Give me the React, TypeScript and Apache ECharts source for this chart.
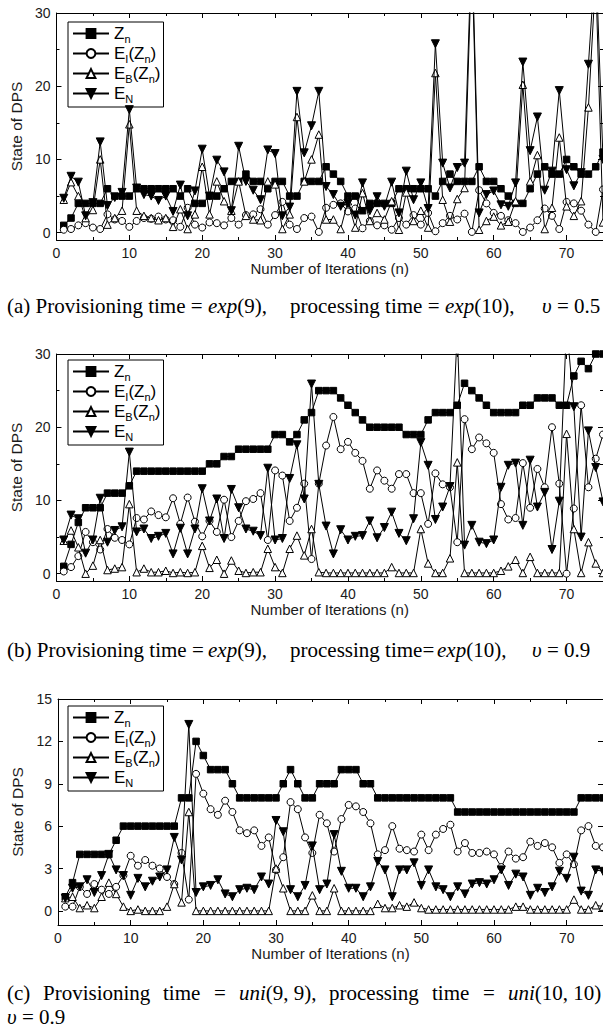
import React, { useEffect, useRef } from 'react';
import * as echarts from 'echarts';

// ---------- data ----------
const iterations = Array.from({ length: 75 }, (_, i) => i + 1);
const seriesNames = ['Zn', 'EI(Zn)', 'EB(Zn)', 'EN'];
const xMajorTicks = [0, 10, 20, 30, 40, 50, 60, 70];
const xMinorTicks = [5, 15, 25, 35, 45, 55, 65];
const yTicksAB = [0, 10, 20, 30];
const yMinorAB = [5, 15, 25];
const yTicksC = [0, 3, 6, 9, 12, 15];

// panel (a)
const znA = [1, 2, 4, 4, 4, 4, 6, 5, 5, 5, 6, 6, 6, 6, 6, 6, 5, 6, 4, 4, 5, 5, 6, 7, 7, 8, 7, 7, 6, 7, 7, 5, 5, 7, 7, 7, 9, 8, 7, 5, 5, 3, 4, 4, 4, 4, 6, 6, 6, 6, 6, 5, 7, 8, 7, 7, 7, 9, 7, 7, 6, 5, 4, 4, 6, 8, 9, 8, 8, 10, 9, 8, 8, 9, 11];
const eiA = [0.4, 0.5, 1, 1.3, 0.7, 0.5, 2.5, 1.8, 1.6, 0.8, 1.6, 2, 1.9, 2.2, 1.8, 1.7, 0.8, 3.4, 1.1, 0.7, 1.4, 1.3, 1, 2, 1.1, 2.4, 2.5, 3.2, 1.1, 2.4, 4.2, 1.1, 0.5, 2, 2.2, 0.1, 3.4, 3.8, 4, 2.9, 3.3, 0.6, 1.6, 1, 1, 0.4, 2, 1.1, 2.4, 1.1, 2.7, 0.2, 1.3, 2.3, 1.8, 2.6, 0.1, 5.8, 4, 2.7, 2.3, 1.7, 1.3, 0.1, 0.7, 1.7, 3.3, 2.3, 0.5, 4.2, 4, 3, 1.1, 0.1, 5.9];
const ebA = [4.5, 6.9, 5, 2, 3.1, 10, 1.1, 2, 3, 14.8, 3, 2.3, 2, 1.7, 2, 0.8, 3.2, 0.5, 2.5, 9, 2.5, 7, 4.3, 3, 7, 2.3, 1.8, 1.7, 7, 6.6, 0.5, 2.5, 15.8, 7, 10, 13.4, 1.8, 1.8, 0.5, 4.3, 0.7, 5.4, 1.6, 2.7, 1.8, 4.3, 0.4, 5.5, 1.6, 3, 0.7, 21.8, 4.5, 1.5, 4.6, 6.1, 38, 0.4, 1.6, 2.2, 1, 1.5, 4.3, 20.2, 7, 10.6, 0.5, 3.4, 13, 3.6, 2.3, 4.3, 17.1, 35, 1.4];
const enA = [4.7, 7.7, 6.9, 2.3, 4.1, 12.4, 3.7, 4.8, 5.5, 16.8, 6.1, 5.2, 5, 4.4, 5, 2.9, 6.5, 2.3, 5.7, 11.4, 5, 9.9, 8.3, 3, 11.8, 7, 5.8, 4.5, 11.3, 10.8, 2.3, 3.5, 19.3, 10.9, 14.6, 19.3, 6.3, 5.2, 3.6, 4, 2.4, 6.8, 3, 4.9, 3.6, 6.9, 2.7, 8.4, 4.5, 6.8, 3.3, 25.8, 9.5, 6.1, 8.9, 9.5, 40, 2.7, 5.2, 5.7, 3.8, 3.6, 6.8, 23.3, 11.2, 15.8, 5.8, 8.4, 19.4, 8.6, 6.4, 8.2, 23, 38, 10];

// panel (b)
const znB = [1, 4, 7, 9, 9, 9, 11, 11, 11, 12, 14, 14, 14, 14, 14, 14, 14, 14, 14, 14, 15, 15, 16, 16, 17, 17, 17, 17, 17, 19, 19, 18, 19, 21, 22, 25, 25, 25, 24, 23, 22, 21, 20, 20, 20, 20, 20, 19, 19, 19, 21, 22, 22, 22, 23, 26, 25, 24, 23, 22, 22, 22, 22, 23, 23, 24, 24, 24, 23, 23, 27, 29, 28, 30, 30];
const eiB = [0.3, 0.9, 2.4, 5.7, 4.3, 3.3, 6.1, 4.9, 4.6, 4, 7.6, 7.4, 8.5, 8, 7.7, 10.3, 6.8, 10.4, 7.1, 5.1, 7.2, 5.7, 10.1, 5, 7.2, 9.9, 10.2, 11, 4.6, 14.1, 13.4, 7.2, 9, 12.3, 2, 12.3, 17.5, 21.4, 17, 18, 16.5, 15.4, 11.6, 14.1, 12.7, 11.6, 13.6, 13.6, 11, 11, 6.8, 13.7, 12.2, 11.8, 4.3, 21.1, 17, 18.6, 17.8, 16.5, 9.5, 7.4, 7.6, 15.1, 9, 14.3, 11.8, 20, 12.3, 0, 8.9, 23, 11.8, 15.7, 19];
const ebB = [4.5, 5.9, 3.6, 0, 1.1, 4.6, 0.5, 0.7, 0.9, 9.5, 0.2, 0.7, 0.2, 0.2, 0.4, 0.1, 0.2, 0.1, 0.2, 3.8, 0.8, 1.9, 0, 1.8, 0.4, 0.1, 0.2, 0.2, 3.4, 0.9, 0.1, 3.4, 5.2, 2.5, 6.1, 0.2, 0.1, 0.1, 0.1, 0.1, 0.1, 0.1, 0.1, 0.1, 0.1, 0.9, 0.1, 0.1, 0.1, 6.1, 1.4, 0.1, 0.1, 2.1, 15.2, 0.1, 0.1, 0.1, 0.1, 0.1, 0.4, 1, 1.9, 0.1, 2.3, 0.1, 0.1, 0.1, 0.1, 19.1, 6.1, 0.1, 4.3, 1.4, 0.1];
const enB = [4.6, 8, 7.5, 2.8, 4.6, 10.3, 4.3, 5.9, 6.4, 16.6, 5.7, 6.1, 4.8, 5.1, 5.5, 2.7, 6.2, 2.7, 6.1, 11.6, 7.2, 10.2, 4.8, 11.5, 9, 6.1, 5.8, 5.2, 14.4, 4.6, 4.8, 13, 17.6, 10.2, 25.9, 12.2, 6.5, 2.7, 6, 4.6, 5.1, 5.2, 7.2, 4.9, 6.3, 8.4, 5.5, 4.5, 7.5, 17.9, 14.8, 7.4, 9.1, 11.9, 33, 3.9, 6.6, 4.3, 4.1, 4.6, 11.8, 14.8, 15.1, 6.6, 15.5, 9.1, 11.1, 3.3, 9.9, 34, 22.8, 5, 19.5, 14.5, 9.8];

// panel (c)
const znC = [1, 2, 4, 4, 4, 4, 4, 5, 6, 6, 6, 6, 6, 6, 6, 6, 8, 8, 12, 11, 10, 10, 10, 9, 8, 8, 8, 8, 8, 8, 9, 10, 9, 8, 8, 9, 9, 9, 10, 10, 10, 9, 9, 8, 8, 8, 8, 8, 8, 8, 8, 8, 8, 8, 7, 7, 7, 7, 7, 7, 7, 7, 7, 7, 7, 7, 7, 7, 7, 7, 7, 8, 8, 8, 8];
const eiC = [0.3, 0.3, 1.7, 1.2, 1.9, 1.5, 1.2, 1.7, 2.5, 3.9, 3.2, 3.6, 3.2, 3, 2.4, 1.9, 4.1, 0.8, 9.7, 8.3, 7.2, 6.8, 7.8, 7, 5.7, 5.5, 5.7, 4.6, 5.2, 2.9, 3.8, 7.7, 7.2, 5.2, 4.1, 6.8, 6.2, 4.2, 6.5, 7.5, 7.4, 7, 6.2, 4, 4.3, 6, 4.4, 4.3, 4.2, 5.4, 4.3, 5.4, 5.8, 6.1, 4.2, 4.8, 4.1, 4.1, 4.2, 4, 3.1, 4.2, 3.7, 3.8, 4.9, 4.6, 4.8, 4.5, 3.4, 4, 3.3, 5.7, 6, 4.6, 4.5];
const ebC = [0.9, 1, 0.2, 0.4, 0.2, 1, 2, 1.2, 0.3, 0, 0.1, 0, 0, 0, 0.3, 1.9, 0.6, 7, 0, 0, 0, 0, 0, 0, 0, 0, 0, 0, 0, 3, 1.6, 0, 0, 0, 1.1, 0, 0, 1.6, 0, 0, 0, 0, 0, 0.5, 0.2, 0.2, 0.4, 0.3, 0.6, 0.2, 0.1, 0.1, 0.1, 0.1, 0.1, 0.1, 0.1, 0.1, 0.1, 0.1, 0.1, 0.1, 0.3, 0.3, 0.1, 0.1, 0.1, 0.1, 0.1, 0.1, 0.8, 0.1, 0.1, 0.4, 0.3];
const enC = [0.9, 1.6, 1.7, 2.2, 1.3, 2.5, 4, 2.9, 2.5, 1.1, 2.3, 1.7, 2.1, 2.4, 2.9, 5.2, 3.6, 13.2, 1.3, 1.7, 1.8, 2.2, 1.2, 1, 1.5, 1.6, 1.5, 2.4, 1.9, 6.4, 5.6, 1.5, 1, 1.8, 4.6, 1.5, 1.9, 5.4, 2.8, 1.6, 1.6, 1, 1.7, 3.5, 2.9, 1, 2.9, 2.9, 3.4, 1.8, 2.9, 1.7, 1.5, 1, 1.7, 1.2, 1.9, 2, 1.9, 2.2, 2.9, 1.8, 2.6, 2.4, 1.1, 1.6, 1.3, 1.7, 2.8, 2.3, 3.8, 1.4, 1.1, 2.9, 2.8];

// ---------- styles ----------
const SANS = '"Liberation Sans", Arial, Helvetica, sans-serif';
const SERIF = '"Liberation Serif", "Times New Roman", Times, serif';
const INK = '#000';
const TXT = '#1a1a1a';

const markerStyles = [
  { symbol: 'rect', size: 6.5, rotate: 0, fill: '#000' },
  { symbol: 'circle', size: 7, rotate: 0, fill: '#fff' },
  { symbol: 'triangle', size: 7.5, rotate: 0, fill: '#fff' },
  { symbol: 'triangle', size: 8, rotate: 180, fill: '#000' },
];

const legendLabels: Record<string, string> = {
  'Zn': '{b|Z}{s|n}',
  'EI(Zn)': '{b|E}{s|I}{b|(Z}{s|n}{b|)}',
  'EB(Zn)': '{b|E}{s|B}{b|(Z}{s|n}{b|)}',
  'EN': '{b|E}{s|N}',
};

const panels = [
  { grid: { left: 54, top: 13, width: 550, height: 227 }, yMax: 30, yTicks: yTicksAB, yMinor: yMinorAB, legend: { left: 68, top: 22 }, data: [znA, eiA, ebA, enA] },
  { grid: { left: 54, top: 354, width: 550, height: 227 }, yMax: 30, yTicks: yTicksAB, yMinor: yMinorAB, legend: { left: 68, top: 360 }, data: [znB, eiB, ebB, enB] },
  { grid: { left: 58, top: 699, width: 546, height: 226 }, yMax: 15, yTicks: yTicksC, yMinor: [] as number[], legend: { left: 68, top: 706 }, data: [znC, eiC, ebC, enC] },
];

function buildOption() {
  const xAxis: any[] = [];
  const yAxis: any[] = [];
  const series: any[] = [];
  const legend: any[] = [];
  const lineStyle = { color: INK, width: 1 };

  panels.forEach((p, gi) => {
    const xBase = { type: 'value', gridIndex: gi, min: 0, max: 75, splitLine: { show: false } };
    const yBase = { type: 'value', gridIndex: gi, min: -1, max: p.yMax, splitLine: { show: false } };
    const mainX = xAxis.length;
    xAxis.push({
      ...xBase, position: 'bottom',
      axisLine: { show: true, onZero: false, lineStyle },
      axisTick: { show: true, inside: true, length: 5, customValues: xMajorTicks, lineStyle },
      axisLabel: { show: true, customValues: xMajorTicks, margin: 6, fontSize: 14, fontFamily: SANS, color: TXT },
      name: 'Number of Iterations (n)', nameLocation: 'middle', nameGap: 21,
      nameTextStyle: { fontSize: 15, fontFamily: SANS, color: TXT },
    });
    xAxis.push({
      ...xBase, position: 'bottom',
      axisLine: { show: false, onZero: false },
      axisTick: { show: true, inside: true, length: 3, customValues: xMinorTicks, lineStyle },
      axisLabel: { show: false },
    });
    xAxis.push({
      ...xBase, position: 'top',
      axisLine: { show: true, onZero: false, lineStyle },
      axisTick: { show: true, inside: true, length: 5, customValues: xMajorTicks, lineStyle },
      axisLabel: { show: false },
    });
    xAxis.push({
      ...xBase, position: 'top',
      axisLine: { show: false, onZero: false },
      axisTick: { show: true, inside: true, length: 3, customValues: xMinorTicks, lineStyle },
      axisLabel: { show: false },
    });

    const mainY = yAxis.length;
    yAxis.push({
      ...yBase, position: 'left',
      axisLine: { show: true, onZero: false, lineStyle },
      axisTick: { show: true, inside: true, length: 5, customValues: p.yTicks, lineStyle },
      axisLabel: { show: true, customValues: p.yTicks, margin: 6, fontSize: 14, fontFamily: SANS, color: TXT },
      name: 'State of DPS', nameLocation: 'middle', nameGap: 30,
      nameTextStyle: { fontSize: 15.5, fontFamily: SANS, color: TXT },
    });
    yAxis.push({
      ...yBase, position: 'right',
      axisLine: { show: true, onZero: false, lineStyle },
      axisTick: { show: true, inside: true, length: 5, customValues: p.yTicks, lineStyle },
      axisLabel: { show: false },
    });
    if (p.yMinor.length) {
      yAxis.push({
        ...yBase, position: 'left',
        axisLine: { show: false, onZero: false },
        axisTick: { show: true, inside: true, length: 3, customValues: p.yMinor, lineStyle },
        axisLabel: { show: false },
      });
      yAxis.push({
        ...yBase, position: 'right',
        axisLine: { show: false, onZero: false },
        axisTick: { show: true, inside: true, length: 3, customValues: p.yMinor, lineStyle },
        axisLabel: { show: false },
      });
    }

    p.data.forEach((vals, si) => {
      const m = markerStyles[si];
      series.push({
        type: 'line',
        name: seriesNames[si],
        xAxisIndex: mainX,
        yAxisIndex: mainY,
        data: iterations.map((x, i) => [x, vals[i]]),
        symbol: m.symbol,
        symbolSize: m.size,
        symbolRotate: m.rotate,
        showAllSymbol: true,
        clip: true,
        itemStyle: { color: m.fill, borderColor: INK, borderWidth: 1 },
        lineStyle: { color: INK, width: 1 },
        emphasis: { disabled: true },
        z: 2 + si,
      });
    });

    legend.push({
      left: p.legend.left,
      top: p.legend.top,
      orient: 'vertical',
      itemWidth: 36,
      itemHeight: 11,
      itemGap: 1,
      padding: [3, 3, 3, 4],
      borderColor: INK,
      borderWidth: 1,
      selectedMode: false,
      data: seriesNames,
      formatter: (n: string) => legendLabels[n],
      textStyle: {
        color: INK,
        fontFamily: SANS,
        fontSize: 17,
        rich: {
          b: { fontSize: 17, lineHeight: 21, fontFamily: SANS, color: INK },
          s: { fontSize: 11, lineHeight: 9, verticalAlign: 'bottom', fontFamily: SANS, color: INK },
        },
      },
    });
  });

  const capText = (x: number, y: number, text: string) => ({
    type: 'text',
    x,
    y,
    silent: true,
    style: {
      text,
      fill: INK,
      fontSize: 21,
      fontFamily: SERIF,
      verticalAlign: 'middle',
      align: 'left',
      rich: {
        i: { fontStyle: 'italic', fontSize: 21, fontFamily: SERIF, fill: INK },
      },
    },
  });

  const graphic = [
    capText(7, 306, '(a) Provisioning time ='),
    capText(208, 306, '{i|exp}(9),'),
    capText(290, 306, 'processing time ='),
    capText(445, 306, '{i|exp}(10),'),
    capText(542, 306, '{i|υ} = 0.5'),

    capText(7, 650, '(b) Provisioning time ='),
    capText(208, 650, '{i|exp}(9),'),
    capText(290, 650, 'processing time='),
    capText(437, 650, '{i|exp}(10),'),
    capText(532, 650, '{i|υ} = 0.9'),

    capText(7, 993, '(c)'),
    capText(43, 993, 'Provisioning'),
    capText(163, 993, 'time'),
    capText(214, 993, '='),
    capText(239, 993, '{i|uni}(9, 9),'),
    capText(329, 993, 'processing'),
    capText(432, 993, 'time'),
    capText(483, 993, '='),
    capText(508, 993, '{i|uni}(10, 10)'),
    capText(7, 1017, '{i|υ} = 0.9'),
  ];

  return {
    animation: false,
    backgroundColor: '#fff',
    grid: panels.map((p) => ({ ...p.grid, containLabel: false })),
    xAxis,
    yAxis,
    series,
    legend,
    graphic,
  };
}

export default function App() {
  const ref = useRef<HTMLDivElement>(null);
  useEffect(() => {
    if (!ref.current) return;
    const chart = echarts.init(ref.current, undefined, { renderer: 'svg' });
    chart.setOption(buildOption() as any);
    return () => chart.dispose();
  }, []);
  return (
    <div
      ref={ref}
      style={{ position: 'absolute', left: 0, top: 0, width: 603, height: 1032, background: '#fff' }}
    />
  );
}
